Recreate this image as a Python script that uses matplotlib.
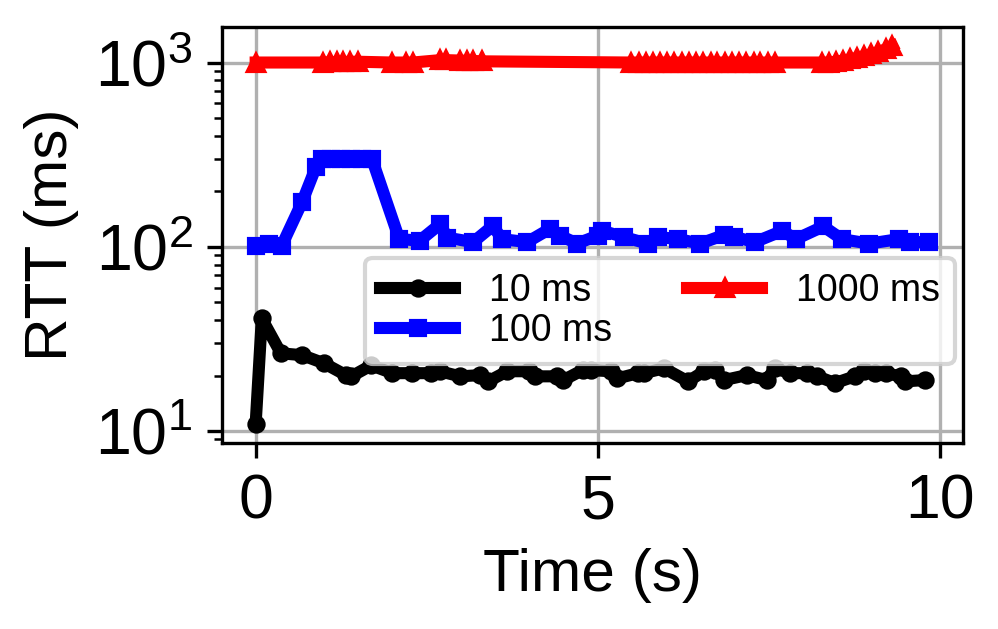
import matplotlib
matplotlib.use('Agg')
import matplotlib.pyplot as plt

plt.rcParams['font.family'] = ['Liberation Sans', 'DejaVu Sans']
plt.rcParams['mathtext.fontset'] = 'custom'
plt.rcParams['mathtext.rm'] = 'Liberation Sans'
plt.rcParams['mathtext.it'] = 'Liberation Sans:italic'
plt.rcParams['mathtext.bf'] = 'Liberation Sans:bold'

# 10 ms series
t_10 = [0.0, 0.09, 0.37, 0.68, 1.0, 1.32, 1.40, 1.69, 2.0, 2.29, 2.57, 2.69,
        2.99, 3.28, 3.40, 3.68, 3.99, 4.09, 4.41, 4.50, 4.78, 4.90, 5.19, 5.29,
        5.59, 5.68, 5.97, 6.32, 6.56, 6.71, 6.85, 7.18, 7.47, 7.59, 7.81, 8.06,
        8.21, 8.47, 8.76, 8.90, 9.06, 9.21, 9.43, 9.50, 9.79]
rtt_10 = [10.9, 40.8, 26.4, 25.8, 23.3, 20.1, 19.8, 22.7, 20.6, 20.6, 20.6, 21.1,
          19.8, 20.1, 18.6, 21.1, 21.1, 19.8, 19.8, 18.9, 21.4, 21.4, 21.1, 19.3,
          20.6, 20.6, 21.9, 18.6, 21.1, 21.4, 18.9, 20.1, 18.9, 21.9, 20.6, 20.6,
          19.8, 18.2, 19.8, 21.1, 20.6, 20.6, 19.8, 18.6, 18.9]

# 100 ms series
t_100 = [0.0, 0.19, 0.38, 0.68, 0.88, 0.97, 1.1, 1.25, 1.4, 1.55, 1.7, 2.1,
         2.4, 2.7, 2.8, 3.18, 3.47, 3.6, 3.97, 4.3, 4.45, 4.7, 5.0, 5.07, 5.38,
         5.73, 5.88, 6.18, 6.5, 6.85, 7.0, 7.3, 7.7, 7.9, 8.3, 8.57, 8.97, 9.4,
         9.56, 9.85]
rtt_100 = [101, 103, 101, 175, 270, 300, 300, 300, 300, 298, 300, 110,
           108, 133, 112, 106, 130, 110, 106, 125, 115, 104, 115, 122, 113,
           104, 113, 110, 104, 116, 113, 106, 122, 110, 129, 110, 104, 110,
           106, 106]

# 1000 ms series
t_1000 = [0.0, 0.98, 1.09, 1.19, 1.28, 1.38, 1.49, 1.99, 2.2, 2.3,
          2.69, 2.79, 2.99, 3.09, 3.18, 3.31,
          5.49, 5.60, 5.70, 5.81, 5.91, 6.02, 6.12, 6.23, 6.33, 6.44, 6.54,
          6.65, 6.75, 6.86, 6.96, 7.07, 7.17, 7.28, 7.38, 7.49, 7.59,
          8.28, 8.38, 8.48, 8.59, 8.69, 8.79, 8.90, 9.00, 9.10, 9.21, 9.31]
rtt_1000 = [1000, 1000, 1005, 1005, 1005, 1010, 1010, 1000, 1000, 1000,
            1030, 1030, 1025, 1020, 1020, 1015,
            1000, 1000, 1000, 1000, 1000, 1000, 1000, 1000, 1000, 1000, 1000,
            1000, 1000, 1000, 1000, 1000, 1000, 1000, 1000, 1000, 1000,
            1000, 1000, 1010, 1025, 1040, 1060, 1085, 1110, 1140, 1180, 1230]

fig = plt.figure(figsize=(998 / 300, 629 / 300), dpi=300)
ax = fig.add_axes([0.2224, 0.2957, 0.7426, 0.6613])

ax.plot(t_10, rtt_10, color='black', marker='o', markersize=3.4, linewidth=2.9, label='10 ms')
ax.plot(t_100, rtt_100, color='blue', marker='s', markersize=3.4, linewidth=2.9, label='100 ms')
ax.plot(t_1000, rtt_1000, color='red', marker='^', markersize=4, linewidth=2.9, label='1000 ms')

ax.set_yscale('log')
ax.set_xticks([0, 5, 10])
ax.tick_params(axis='x', which='major', labelsize=15)
ax.tick_params(axis='y', which='major', labelsize=15.5)
ax.set_xlabel('Time (s)', fontsize=14.5)
ax.set_ylabel('RTT (ms)', fontsize=14.5)
ax.grid(True)

ax.legend(ncol=2, fontsize=9, loc='upper right', bbox_to_anchor=(0.989, 0.445),
          borderaxespad=0, handlelength=2.0, columnspacing=2.0, handletextpad=0.9,
          labelspacing=0.1)

fig.savefig('out.png', dpi=300)
